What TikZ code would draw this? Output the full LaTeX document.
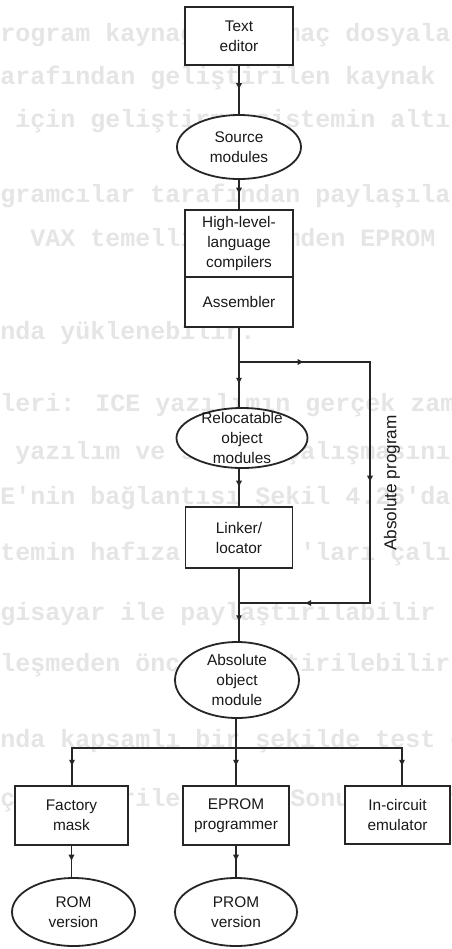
\documentclass[tikz,border=0pt]{standalone}
\usepackage{fontspec}
\setmainfont{Liberation Sans}
\newfontfamily\bgmono{Liberation Mono}
\usetikzlibrary{shapes.geometric,decorations.markings,arrows.meta}

\newcommand\lblfont{\fontsize{7.7}{10}\selectfont}

\tikzset{
  ink/.style={draw=black!85, line width=0.9pt},
  box/.style={ink, rectangle, fill=white, inner sep=0pt, align=center,
    font=\lblfont, text=black!90},
  oval/.style={ink, ellipse, fill=white, inner sep=0pt,
    label={[txt]center:#1}},
  txt/.style={align=center, font=\lblfont, text=black!90, inner sep=0pt},
  conn/.style={ink, line cap=rect},
  flow/.style={conn, postaction={decorate}, decoration={markings,
    mark=at position 0.5 with {\arrow{Latex[length=3.4pt,width=3.2pt]}}}},
  loopflow/.style={ink, postaction={decorate}, decoration={markings,
    mark=at position 0.13 with {\arrow{Latex[length=3.4pt,width=3.2pt]}},
    mark=at position 0.5 with {\arrow{Latex[length=3.4pt,width=3.2pt]}},
    mark=at position 0.87 with {\arrow{Latex[length=3.4pt,width=3.2pt]}}}},
  bgline/.style={anchor=base west, inner sep=0pt, text=black!10,
    font=\bgmono\bfseries\fontsize{12.5}{12.5}\selectfont},
}

\begin{document}
\begin{tikzpicture}[x=0.5pt, y=-0.5pt]
  \useasboundingbox (0,0) rectangle (451,949);
  \fill[white] (0,0) rectangle (451,949);

  % typed page text showing through faintly behind the chart
  \begin{scope}
    \clip (0,0) rectangle (451,949);
    \node[bgline] (bg1)  at (-15, 41)  {Program kaynağı ve amaç dosyaları};
    \node[bgline] (bg2)  at (-15, 84)  {tarafından geliştirilen kaynak};
    \node[bgline] (bg3)  at (15, 127)  {için geliştirme sistemin altında};
    \node[bgline] (bg4)  at (-45, 202) {programcılar tarafından paylaşılabilir};
    \node[bgline] (bg5)  at (30, 246)  {VAX temelli sistemden EPROM programlayıcıya};
    \node[bgline] (bg6)  at (0, 339)   {nda yüklenebilir.};
    \node[bgline] (bg7)  at (-75, 411) {ellikleri: ICE yazılımın gerçek zamanda};
    \node[bgline] (bg8)  at (15, 459)  {yazılım ve sistem çalışmasını};
    \node[bgline] (bg9)  at (-30, 504) {ICE'nin bağlantısı Şekil 4.26'da};
    \node[bgline] (bg10) at (-45, 560) {sistemin hafıza ve I/O 'ları çalışma};
    \node[bgline] (bg11) at (-45, 620) {bilgisayar ile paylaştırılabilir};
    \node[bgline] (bg12) at (-90, 671) {gerçekleşmeden önce geliştirilebilir};
    \node[bgline] (bg13) at (-90, 747) {ortamında kapsamlı bir şekilde test edilebilir};
    \node[bgline] (bg14) at (-45, 806) {gerçekleştirilebilir. Sonuçta, ürün};
  \end{scope}

  % main chain
  \node[box, minimum width=54pt, minimum height=29pt] (te) at (239,36) {Text\\editor};
  \node[oval={Source\\modules}, minimum width=62pt, minimum height=32pt] (src) at (239,147) {};
  \node[box, minimum width=54pt, minimum height=33.5pt] (hll) at (239,243.5) {High-level-\\language\\compilers};
  \node[box, minimum width=54pt, minimum height=25pt] (asm) at (239,302) {Assembler};
  \node[oval={Relocatable\\object\\modules}, minimum width=65.5pt, minimum height=30pt] (rel) at (242,438) {};
  \node[box, minimum width=53.5pt, minimum height=30.5pt] (lnk) at (239,537.5) {Linker/\\locator};
  \node[oval={Absolute\\object\\module}, minimum width=62pt, minimum height=38pt] (abs) at (237,680) {};

  % outputs
  \node[box, minimum width=56.5pt, minimum height=29.5pt] (fac) at (71.5,815.5) {Factory\\mask};
  \node[box, minimum width=53pt, minimum height=29.5pt] (epr) at (236,815.5) {EPROM\\programmer};
  \node[box, minimum width=52.5pt, minimum height=29pt] (ice) at (397.5,815) {In-circuit\\emulator};
  \node[oval={ROM\\version}, minimum width=61.5pt, minimum height=34pt] (rom) at (73.5,912) {};
  \node[oval={PROM\\version}, minimum width=61pt, minimum height=34pt] (prom) at (236,912) {};

  % junctions
  \coordinate (j1) at (239,362);
  \coordinate (c1) at (370,362);
  \coordinate (c2) at (370,603);
  \coordinate (j2) at (239,603);
  \coordinate (bl) at (72,748);
  \coordinate (bm) at (236,748);
  \coordinate (br) at (402,748);

  \node[rotate=90, inner sep=0pt, font=\fontsize{8.6}{10}\selectfont, text=black!90] (apl) at (392,483) {Absolute program};

  % connectors
  \draw[flow] (te) -- (src);
  \draw[flow] (src) -- (hll);
  \draw[conn] (asm) -- (j1);
  \draw[flow] (j1) -- (j1 |- rel.north);
  \draw[loopflow] (j1) -- (c1) -- (c2) -- (j2);
  \draw[flow] (j1 |- rel.south) -- (lnk);
  \draw[conn] (lnk) -- (j2);
  \draw[flow] (j2) -- (j2 |- abs.north);
  \draw[conn] (abs.south -| bm) -- (bm);
  \draw[conn] (bl) -- (br);
  \draw[flow] (bl) -- (bl |- fac.north);
  \draw[flow] (bm) -- (epr);
  \draw[flow] (br) -- (br |- ice.north);
  \draw[flow] (fac.south) -- (fac.south |- rom.north);
  \draw[flow] (epr) -- (prom);
\end{tikzpicture}
\end{document}
